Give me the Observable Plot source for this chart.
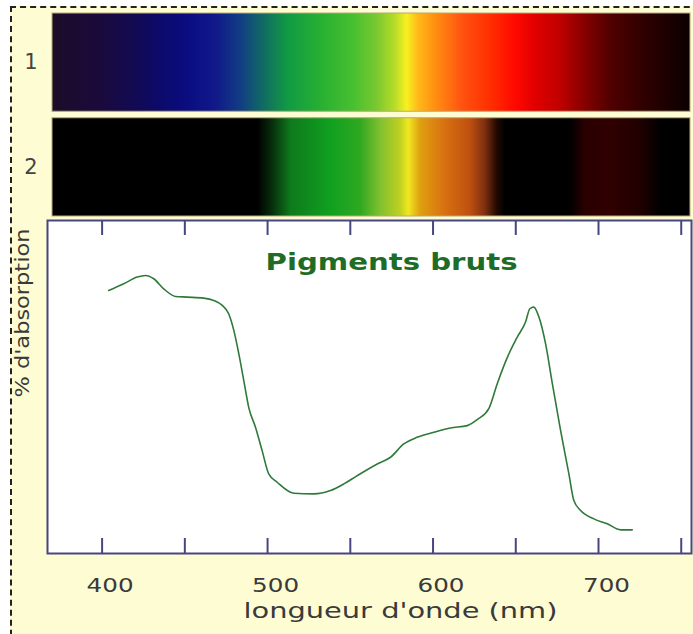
<!DOCTYPE html>
<html>
<head>
<meta charset="utf-8">
<script src="https://cdn.jsdelivr.net/npm/d3@7"></script>
<script src="https://cdn.jsdelivr.net/npm/@observablehq/plot@0.6"></script>
<style>
  body { margin: 0; background: #ffffff; }
  #root { position: relative; width: 693px; height: 634px; overflow: hidden; font-family: "DejaVu Sans", sans-serif; }
  #bg { position: absolute; left: 10px; top: 6px; width: 720px; height: 660px; background: #fefcd2;
        border-top: 2px dashed #222; border-left: 2px dashed #222; box-sizing: border-box; }
  #bars { position: absolute; left: 0; top: 12.7px; }
  #main { position: absolute; left: 0; top: 216px; }
  svg { overflow: visible; }
</style>
</head>
<body>
<div id="root">
  <div id="bg"></div>
  <div id="bars"></div>
  <div id="main"></div>
</div>
<script>
// ---- data ----
const rows = ["1", "2"];
const barRange = [370, 755];

const spectrum1Wavelengths = [370, 399, 419, 435, 451, 468, 483.5, 497, 512, 532, 552, 565.5, 577, 584, 591, 601, 618.5, 634, 649.5, 661.5, 676.5, 688.5, 707, 727, 755];
const spectrum1Colors = ["#1c0c28", "#1a0a3c", "#130a52", "#0c0a6a", "#0a0c80", "#10188a", "#123c84", "#106a64", "#109a44", "#28b032", "#48c030", "#78c830", "#b8dc28", "#f8f020", "#ffb818", "#ff9010", "#ff5010", "#ff3000", "#ff0800", "#e00000", "#c00000", "#900000", "#500000", "#300000", "#0a0000"];

const spectrum2Wavelengths = [370, 494, 503, 514, 538, 556, 568, 580, 585, 592, 607, 622, 631, 638.5, 643.5, 682.5, 691.5, 707, 725, 738, 755];
const spectrum2Colors = ["#000000", "#000000", "#08300c", "#0e7a1c", "#10a020", "#30a820", "#80c030", "#c0d020", "#f0e820", "#e0a010", "#d87010", "#c05010", "#803010", "#200800", "#000000", "#000000", "#2a0000", "#300000", "#200000", "#000000", "#000000"];

const wavelengths = [404, 413.1, 421.2, 426.2, 431.2, 437.2, 444.3, 451.4, 461.4, 467.5, 472.6, 476.5, 479.6, 482.6, 485.6, 488.6, 492.7, 496.7, 500.7, 505.8, 515.8, 527.9, 538, 546.1, 554.2, 566.3, 574.3, 582.3, 590.4, 600.5, 610.6, 620.7, 626.7, 633.7, 638.8, 644.9, 650.9, 655.9, 658.5, 660.9, 664, 668, 672.1, 677.1, 682.1, 685.1, 689.2, 697.2, 705.3, 713.4, 720.4];
const absorption = [79.0, 81.0, 83.0, 83.5, 82.5, 79.5, 77.2, 77.0, 76.7, 76.0, 74.5, 72.0, 67.0, 60.0, 52.0, 43.9, 37.9, 30.9, 23.9, 21.4, 18.1, 17.9, 18.9, 20.9, 23.4, 26.9, 28.9, 32.9, 34.9, 36.4, 37.7, 38.4, 40.2, 43.5, 51.0, 58.9, 65.0, 69.5, 73.5, 74.0, 71.0, 63.0, 51.0, 36.9, 23.9, 15.9, 12.9, 10.4, 8.9, 7.1, 7.1];

const tickValues = [400, 450, 500, 550, 600, 650, 700, 750];
const tickLabels = [400, 500, 600, 700];
const titleText = "Pigments bruts";
const xLabel = "longueur d'onde (nm)";
const yLabel = "% d'absorption";

// ---- spectrum bars ----
function gradientDefs(id, ws, cs) {
  return (index, scales) => {
    const x1 = scales.x(barRange[0]), x2 = scales.x(barRange[1]);
    const defs = d3.create("svg:defs");
    const g = defs.append("linearGradient").attr("id", id)
      .attr("gradientUnits", "userSpaceOnUse")
      .attr("x1", x1).attr("x2", x2).attr("y1", 0).attr("y2", 0);
    ws.forEach((w, i) => {
      g.append("stop").attr("offset", (scales.x(w) - x1) / (x2 - x1)).attr("stop-color", cs[i]);
    });
    return defs.node();
  };
}

const barData = rows.map(r => ({row: r, a: barRange[0], b: barRange[1]}));

const bars = Plot.plot({
  width: 693,
  height: 203,
  marginLeft: 52,
  marginRight: 3,
  marginTop: 0,
  marginBottom: 0,
  style: {background: "transparent", fontFamily: "DejaVu Sans", color: "#444444", overflow: "visible"},
  x: {domain: barRange, axis: null},
  y: {type: "band", domain: rows, paddingInner: 0.062, paddingOuter: 0, round: false, axis: null},
  marks: [
    gradientDefs("spec1", spectrum1Wavelengths, spectrum1Colors),
    gradientDefs("spec2", spectrum2Wavelengths, spectrum2Colors),
    Plot.barX(barData.filter(d => d.row === "1"), {x1: "a", x2: "b", y: "row", fill: "url(#spec1)", stroke: "#b8a878", strokeWidth: 1}),
    Plot.barX(barData.filter(d => d.row === "2"), {x1: "a", x2: "b", y: "row", fill: "url(#spec2)", stroke: "#b8a878", strokeWidth: 1}),
    Plot.axisY({tickSize: 0, tickPadding: 15, fontSize: 21, label: null, fill: "#444444"})
  ]
});
document.getElementById("bars").appendChild(bars);

// ---- main chart ----
const frameColor = "#474780";
const curveData = wavelengths.map((w, i) => ({w, a: absorption[i]}));

const main = Plot.plot({
  width: 693,
  height: 418,
  marginTop: 4,
  marginLeft: 47,
  marginRight: 2,
  marginBottom: 81,
  style: {background: "transparent", fontFamily: "DejaVu Sans", color: "#3a3a3a", overflow: "visible"},
  x: {domain: [367, 756.2], label: null},
  y: {domain: [0, 100], axis: null},
  marks: [
    Plot.frame({fill: "white", stroke: frameColor, strokeWidth: 2}),
    Plot.ruleX(tickValues, {x: d => d, y1: 100, y2: 95.5, stroke: frameColor, strokeWidth: 2}),
    Plot.ruleX(tickValues, {x: d => d, y1: 0, y2: 4.5, stroke: frameColor, strokeWidth: 2}),
    Plot.axisX(tickLabels, {tickSize: 0, tickPadding: 24, fontSize: 20, dx: 8, label: null}),
    Plot.line(curveData, {x: "w", y: "a", stroke: "#2f7a3a", strokeWidth: 1.6, curve: "monotone-x"}),
    Plot.text([titleText], {text: d => d, frameAnchor: "top", lineAnchor: "top", dx: 22, dy: 33,
      fontSize: 23, fontWeight: "bold", fill: "#1d6d27"}),
    Plot.text([xLabel], {text: d => d, frameAnchor: "bottom", lineAnchor: "top", dx: 31, dy: 50,
      fontSize: 21, fill: "#3a3a3a"}),
    Plot.text([yLabel], {text: d => d, x: 351.9, y: 72.2, rotate: -90, lineAnchor: "middle",
      textAnchor: "middle", fontSize: 20, fill: "#3a3a3a"})
  ]
});
document.getElementById("main").appendChild(main);

// horizontal stretch of the wide bitmap-like lettering
const stretch = new Map([[titleText, 252], [xLabel, 314], [yLabel, 169], ["400", 47], ["500", 47], ["600", 47], ["700", 47]]);
d3.select(main).selectAll("text").each(function() {
  const t = this.textContent;
  if (stretch.has(t)) {
    d3.select(this).attr("textLength", stretch.get(t)).attr("lengthAdjust", "spacingAndGlyphs");
  }
});
</script>
</body>
</html>
